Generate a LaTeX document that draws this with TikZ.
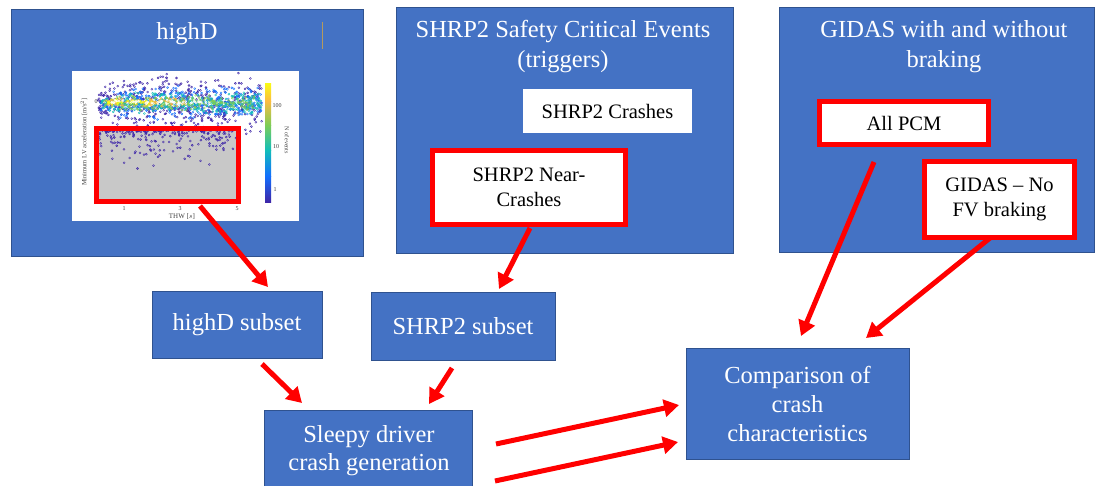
\documentclass[tikz,border=0pt]{standalone}
\usepackage{fontspec}
\setmainfont{Liberation Serif}
\usetikzlibrary{arrows.meta,calc}
\definecolor{boxblue}{HTML}{4472C4}
\definecolor{boxedge}{HTML}{2F528F}
\definecolor{chartgrey}{HTML}{C8C8C8}
\definecolor{tanline}{HTML}{B49A5E}
\definecolor{pa}{rgb}{0.2422,0.1504,0.6603}
\definecolor{pb}{rgb}{0.0704,0.4363,0.9941}
\definecolor{pc}{rgb}{0.0704,0.7457,0.7258}
\definecolor{pd}{rgb}{0.4941,0.8004,0.3411}
\definecolor{pe}{rgb}{0.9856,0.7372,0.2537}
\definecolor{pf}{rgb}{0.9769,0.9839,0.0805}
\newcommand\dotlayer[6]{%
  \foreach \i in {1,...,#1}{%
    \pgfmathsetmacro\px{#3+#4*rnd}%
    \pgfmathsetmacro\fy{min(1,sqrt((\px-95)/25))}%
    \pgfmathsetmacro\py{#5+#6*\fy*(rand+rand)/2}%
    \draw[#2, line width=0.4pt] (\px,\py) circle[radius=1pt];
  }}
\tikzset{
  bigbox/.style={fill=boxblue, draw=boxedge, line width=1pt, inner sep=0pt},
  subbox/.style={fill=boxblue, draw=boxedge, line width=1pt, inner sep=0pt,
    text=white, align=center, font=\fontsize{24.5}{28}\selectfont},
  titletext/.style={text=white, align=center, font=\fontsize{24.5}{30}\selectfont, inner sep=0pt},
  whitebox/.style={fill=white, inner sep=0pt, align=center, font=\fontsize{20.5}{25}\selectfont},
  redbox/.style={fill=white, draw=red, line width=5pt, inner sep=0pt, align=center,
    font=\fontsize{20.5}{25}\selectfont},
  flow/.style={draw=red, line width=5pt, -{Triangle[length=15pt,width=17pt]}},
  tiny/.style={font=\fontsize{6}{7}\selectfont, inner sep=0pt, text=black!75}
}
\begin{document}
\begin{tikzpicture}[x=1pt,y=-1pt]
\clip (0,0) rectangle (1101,485);
\fill[white] (0,0) rectangle (1101,485);

% ---------- highD panel ----------
\node[bigbox, minimum width=352pt, minimum height=247pt] (hd) at (187,132.5) {};
\node[titletext] (hdt) at (187,34) {highD};
\draw[tanline, line width=1pt] (322,22) -- (322,49);

\node[fill=white, minimum width=227pt, minimum height=150pt, inner sep=0pt] (chart) at (185.5,146) {};
\fill[chartgrey] (96.5,128.5) rectangle (238.5,201.5);
\pgfmathsetseed{11}
\dotlayer{520}{pa}{98}{164}{104}{32}
\dotlayer{380}{pb}{100}{162}{103}{18}
\dotlayer{320}{pc}{102}{160}{103}{12}
\dotlayer{230}{pd}{104}{150}{103}{8}
\dotlayer{90}{pe}{106}{80}{102}{5}
\dotlayer{40}{pf}{107}{45}{102}{3.5}
\dotlayer{70}{white}{109}{100}{102}{3}
\foreach \i in {1,...,230}{%
  \pgfmathsetmacro\px{99+138*rnd}%
  \pgfmathsetmacro\py{130+68*rnd*rnd*rnd}%
  \draw[pa, line width=0.4pt] (\px,\py) circle[radius=1pt];
}
% colour bar
\shade[top color=pf, bottom color=pe] (265,83) rectangle (271,101);
\shade[top color=pe, bottom color=pd] (265,101) rectangle (271,125);
\shade[top color=pd, bottom color=pc] (265,125) rectangle (271,150);
\shade[top color=pc, bottom color=pb] (265,150) rectangle (271,176);
\shade[top color=pb, bottom color=pa] (265,176) rectangle (271,202);
\node[tiny] (cb1) at (277,106) {100};
\node[tiny] (cb2) at (276,147) {10};
\node[tiny] (cb3) at (275,190) {1};
\node[tiny, rotate=-90] (cbl) at (287,140) {N of events};
\node[tiny] (yt0) at (96,102) {0};
\node[tiny] (xt1) at (124,209) {1};
\node[tiny] (xt3) at (180,209) {3};
\node[tiny] (xt5) at (237,209) {5};
\node[tiny, font=\fontsize{7}{8}\selectfont] (xl) at (182,217) {THW [$s$]};
\node[tiny, font=\fontsize{6.5}{8}\selectfont, rotate=90] (yl) at (84,142) {Minimum LV acceleration [m/s$^2$]};
\node[draw=red, line width=5pt, minimum width=142pt, minimum height=73pt, inner sep=0pt] (chartred) at (167.5,165) {};

% ---------- SHRP2 panel ----------
\node[bigbox, minimum width=337pt, minimum height=246pt] (sh) at (564.5,130) {};
\node[titletext] (sht) at (563,47) {SHRP2 Safety Critical Events\\(triggers)};
\node[whitebox, minimum width=169pt, minimum height=44pt] (shc) at (607.5,111) {SHRP2 Crashes};
\node[redbox, minimum width=193pt, minimum height=74pt] (shn) at (529,187.5) {SHRP2 Near-\\Crashes};

% ---------- GIDAS panel ----------
\node[bigbox, minimum width=315pt, minimum height=245pt] (gi) at (936.5,129.5) {};
\node[titletext] (git) at (944,47) {GIDAS with and without\\braking};
\node[redbox, minimum width=169pt, minimum height=43pt] (pcm) at (904,123) {All PCM};
\node[redbox, minimum width=150pt, minimum height=76pt] (gnf) at (999.5,199) {GIDAS -- No\\FV braking};

% ---------- lower boxes ----------
\node[subbox, minimum width=170pt, minimum height=67pt] (hds) at (237,324.5) {highD subset};
\node[subbox, minimum width=184pt, minimum height=68pt] (shs) at (463,326) {SHRP2 subset};
\node[bigbox, minimum width=208pt, minimum height=82pt] (sl) at (368,451) {};
\node[titletext, font=\fontsize{24.5}{28}\selectfont] (slt) at (369,451) {Sleepy driver\\crash generation};
\node[subbox, minimum width=223pt, minimum height=111pt, font=\fontsize{24.5}{29}\selectfont] (cmp) at (797.5,403.5) {Comparison of\\crash\\characteristics};

% ---------- connectors ----------
\coordinate (a1s) at (200,206); \coordinate (a1e) at (268,287);
\coordinate (a2s) at (530,228); \coordinate (a2e) at (499,289);
\coordinate (a3s) at (262,364); \coordinate (a3e) at (302,403);
\coordinate (a4s) at (452,368); \coordinate (a4e) at (429,404);
\coordinate (a5s) at (496,444); \coordinate (a5e) at (679,405);
\coordinate (a6s) at (495,481); \coordinate (a6e) at (678,442);
\coordinate (a7s) at (874,162); \coordinate (a7e) at (801,336);
\coordinate (a8s) at (990,238); \coordinate (a8e) at (866,338);
\draw[flow] (a1s) -- (a1e);
\draw[flow] (a2s) -- (a2e);
\draw[flow] (a3s) -- (a3e);
\draw[flow] (a4s) -- (a4e);
\draw[flow] (a5s) -- (a5e);
\draw[flow] (a6s) -- (a6e);
\draw[flow] (a7s) -- (a7e);
\draw[flow] (a8s) -- (a8e);
\end{tikzpicture}
\end{document}
